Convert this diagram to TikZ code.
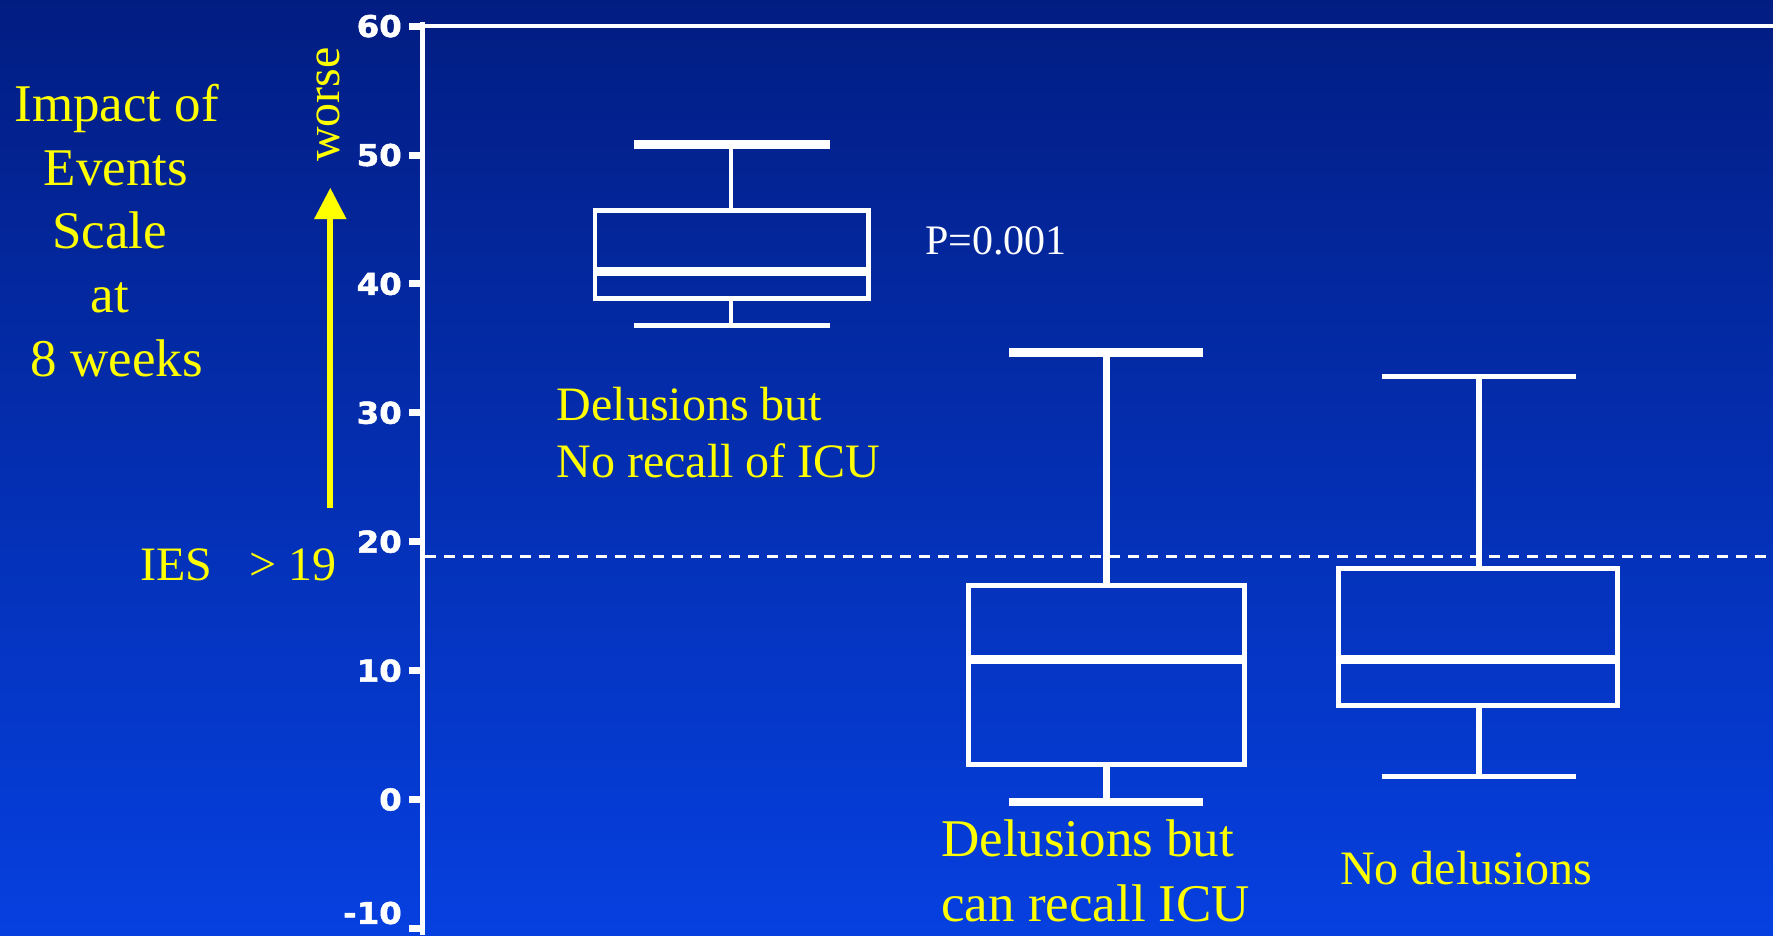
\documentclass[tikz,border=0pt]{standalone}
\usepackage{fontspec}
\setmainfont{Liberation Serif}
\newfontfamily\tickfont[BoldFeatures={FakeBold=1.6}]{DejaVu Sans}
\usetikzlibrary{arrows.meta}
\definecolor{bgtop}{HTML}{021D82}
\definecolor{bgbot}{HTML}{0640E0}
\definecolor{ylw}{HTML}{FFFF00}
\tikzset{
  boxline/.style={draw=white, line width=4.8pt},
  medline/.style={draw=white, line width=9pt},
  whisk/.style={draw=white, line width=#1},
  ticklab/.style={text=white, font=\tickfont\bfseries\fontsize{30}{30}\selectfont, anchor=east, inner sep=0pt, xscale=1.08},
  ylab/.style={text=ylw, inner sep=0pt},
  big/.style={font=\fontsize{53}{64}\selectfont},
  mid/.style={font=\fontsize{48}{58}\selectfont},
}
\begin{document}
\begin{tikzpicture}[x=1pt,y=-1pt]
\useasboundingbox (0,0) rectangle (1773,935);
\shade[top color=bgtop, bottom color=bgbot] (0,0) rectangle (1773,935);
% axis
\coordinate (axtop) at (422.7,22);
\coordinate (axbot) at (422.7,935);
\draw[white, line width=5.5pt] (axtop) -- (axbot);
\coordinate (topL) at (422.7,26.1);
\coordinate (topR) at (1773,26.1);
\draw[white, line width=3.5pt] (topL) -- (topR);
% ticks
\foreach \v in {60,50,40,30,20,10,0,-10}{
  \pgfmathsetmacro{\yy}{799.5-12.89*\v}
  \draw[white, line width=7pt] (409,\yy) -- (422,\yy);
}
\foreach \v in {60,50,40,30,20,10,0}{
  \pgfmathsetmacro{\yy}{799.5-12.89*\v}
  \node[ticklab] (t\v) at (402,\yy) {\v};
}
\node[ticklab] (tm10) at (402,913) {-10};
% dashed threshold
\coordinate (dL) at (425,556);
\coordinate (dR) at (1773,556);
\draw[white, line width=3pt, dash pattern=on 11.3pt off 7.7pt] (dL) -- (dR);
% box 1
\draw[boxline] (595,210.5) rectangle (868.7,298.2);
\draw[medline] (595,271.3) -- (868.7,271.3);
\draw[whisk=4.5pt] (731,210.5) -- (731,144);
\draw[whisk=9pt] (634.3,144) -- (830.3,144);
\draw[whisk=4.5pt] (731,298.2) -- (731,325.3);
\draw[whisk=5.3pt] (634.3,325.3) -- (830.3,325.3);
% box 2
\draw[boxline] (968.2,585.4) rectangle (1244.8,764.2);
\draw[medline] (968.2,659) -- (1244.8,659);
\draw[whisk=6.5pt] (1106.4,585.4) -- (1106.4,352.3);
\draw[whisk=9pt] (1009.3,352.3) -- (1203.3,352.3);
\draw[whisk=6.5pt] (1106.4,764.2) -- (1106.4,802.2);
\draw[whisk=7.5pt] (1009.3,802.2) -- (1203.3,802.2);
% box 3
\draw[boxline] (1338.2,568.3) rectangle (1617.8,705.2);
\draw[medline] (1338.2,659) -- (1617.8,659);
\draw[whisk=6.5pt] (1479,568.3) -- (1479,376.8);
\draw[whisk=5pt] (1382.3,376.8) -- (1576,376.8);
\draw[whisk=6.5pt] (1479,705.2) -- (1479,776.5);
\draw[whisk=5pt] (1382.3,776.5) -- (1576,776.5);
% arrow
\coordinate (arB) at (330.3,507.7);
\coordinate (arT) at (330.3,187.7);
\draw[ylw, line width=6pt, -{Triangle[length=31.3pt, width=30.7pt]}] (arB) -- (arT);
% texts
\node[ylab, big, anchor=base] (l1) at (116.7,121) {Impact of};
\node[ylab, big, anchor=base] (l2) at (115.8,185) {Events};
\node[ylab, big, anchor=base] (l3) at (109.5,248.3) {Scale};
\node[ylab, big, anchor=base] (l4) at (109.7,312.3) {at};
\node[ylab, big, anchor=base] (l5) at (116.8,376) {8 weeks};
\node[ylab, mid, rotate=90, anchor=base west] (worse) at (339,162) {worse};
\node[ylab, mid, anchor=base west] (ies) at (140,580) {IES};
\node[ylab, mid, anchor=base east] (gt) at (336.5,580) {> 19};
\node[ylab, mid, anchor=base west] (b1a) at (556.5,420) {Delusions but};
\node[ylab, mid, anchor=base west] (b1b) at (556.5,477.3) {No recall of ICU};
\node[text=white, inner sep=0pt, font=\fontsize{42}{48}\selectfont, anchor=base west] (pval) at (925,254) {P=0.001};
\node[ylab, big, anchor=base west] (b2a) at (941,856.7) {Delusions but};
\node[ylab, big, anchor=base west] (b2b) at (941,921) {can recall ICU};
\node[ylab, mid, anchor=base west] (b3) at (1340,884) {No delusions};
\end{tikzpicture}
\end{document}
